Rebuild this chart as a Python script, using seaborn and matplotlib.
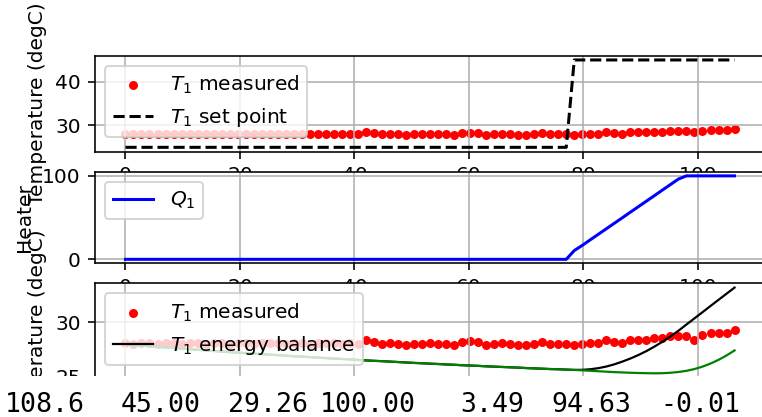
import matplotlib
matplotlib.use("Agg")
import matplotlib.pyplot as plt
import seaborn as sns
from matplotlib.patches import Rectangle

# ---------------- data ----------------
time_s = [0.0, 1.4, 2.8, 4.2, 5.6, 7.0, 8.4, 9.8, 11.2, 12.6,
          14.0, 15.4, 16.8, 18.2, 19.6, 21.0, 22.4, 23.8, 25.2, 26.6,
          28.0, 29.4, 30.8, 32.2, 33.6, 35.0, 36.4, 37.8, 39.2, 40.6,
          42.0, 43.4, 44.8, 46.2, 47.6, 49.0, 50.4, 51.8, 53.2, 54.6,
          56.0, 57.4, 58.8, 60.2, 61.6, 63.0, 64.4, 65.8, 67.2, 68.6,
          70.0, 71.4, 72.8, 74.2, 75.6, 77.0, 78.4, 79.8, 81.2, 82.6,
          84.0, 85.4, 86.8, 88.2, 89.6, 91.0, 92.4, 93.8, 95.2, 96.6,
          98.0, 99.4, 100.8, 102.2, 103.6, 105.0, 106.4]

T1_measured = [28.1, 28.0, 28.1, 28.1, 28.0, 28.1, 28.1, 28.0, 28.1, 28.1,
               28.0, 28.1, 28.1, 28.0, 28.1, 28.1, 28.0, 28.1, 28.1, 28.1,
               28.0, 28.1, 28.1, 28.0, 28.1, 28.1, 28.1, 28.0, 28.1, 28.0,
               28.4, 28.2, 28.0, 28.1, 28.0, 27.9, 28.0, 28.0, 28.1, 28.0,
               28.0, 27.9, 28.2, 28.3, 28.2, 27.9, 28.0, 28.1, 28.0, 27.9,
               27.9, 28.0, 28.2, 28.0, 28.0, 28.0, 27.9, 28.0, 28.1, 28.1,
               28.4, 28.2, 28.1, 28.4, 28.4, 28.4, 28.55, 28.55, 28.7, 28.7,
               28.7, 28.4, 28.85, 29.0, 29.0, 29.0, 29.3]

T1_setpoint = [25.0] * 56 + [45.0] * 21

Q1_heater = [0.0] * 56 + [10.5, 16.7, 23.4, 30.0, 36.6, 43.2, 49.8, 56.5,
                          63.1, 69.7, 76.3, 83.0, 89.6, 96.2] + [100.0] * 7

T1_cooling = [27.98, 27.92, 27.86, 27.81, 27.75, 27.69, 27.64, 27.58, 27.53, 27.48,
              27.43, 27.37, 27.32, 27.27, 27.22, 27.17, 27.13, 27.08, 27.03, 26.99,
              26.94, 26.89, 26.85, 26.81, 26.76, 26.72, 26.68, 26.64, 26.60, 26.55,
              26.51, 26.47, 26.44, 26.40, 26.36, 26.32, 26.28, 26.25, 26.21, 26.18,
              26.14, 26.11, 26.07, 26.04, 26.01, 25.97, 25.94, 25.91, 25.88, 25.85,
              25.81, 25.78, 25.75, 25.72, 25.70, 25.67]

T1_energy_heating = [25.64, 25.65, 25.70, 25.80, 25.95, 26.15, 26.40, 26.68, 27.00,
                     27.36, 27.77, 28.21, 28.70, 29.22, 29.79, 30.35, 30.91, 31.48,
                     32.04, 32.60, 33.16]

T1_green_heating = [25.64, 25.60, 25.56, 25.52, 25.48, 25.44, 25.41, 25.38, 25.36,
                    25.34, 25.33, 25.34, 25.38, 25.45, 25.56, 25.72, 25.94, 26.22,
                    26.56, 26.96, 27.42]

T1_energy = T1_cooling + T1_energy_heating
T1_green = T1_cooling + T1_green_heating

status_values = ["108.6", "45.00", "29.26", "100.00", "3.49", "94.63", "-0.01"]

# ---------------- figure ----------------
W, H = 762, 417
fig = plt.figure(figsize=(5.2552, 2.8759), dpi=145)

left = 95 / W
width = 670 / W
ax1 = fig.add_axes([left, 1 - 151.7 / H, width, 96.1 / H])
ax2 = fig.add_axes([left, 1 - 263.5 / H, width, 91.8 / H])
ax3 = fig.add_axes([left, 1 - 377.6 / H, width, 94.3 / H])

# top panel
sns.scatterplot(x=time_s, y=T1_measured, color="red", s=20, linewidth=0,
                label=r"$T_1$ measured", ax=ax1)
sns.lineplot(x=time_s, y=T1_setpoint, color="black", linestyle="--",
             linewidth=1.5, label=r"$T_1$ set point", ax=ax1)
ax1.set_ylabel("Temperature (degC)")
ax1.grid(True)
ax1.legend(loc="upper left")

# middle panel
sns.lineplot(x=time_s, y=Q1_heater, color="blue", linewidth=1.5,
             label=r"$Q_1$", ax=ax2)
ax2.set_ylabel("Heater")
ax2.grid(True)
ax2.legend(loc="upper left")

# bottom panel
sns.scatterplot(x=time_s, y=T1_measured, color="red", s=20, linewidth=0,
                label=r"$T_1$ measured", ax=ax3)
sns.lineplot(x=time_s, y=T1_energy, color="black", linewidth=1.1,
             label=r"$T_1$ energy balance", ax=ax3)
sns.lineplot(x=time_s, y=T1_green, color="green", linewidth=1.1,
             label="_nolegend_", ax=ax3)
ax3.set_ylabel("Temperature (degC)")
ax3.grid(True)
ax3.legend(loc="upper left")
# bottom panel's x tick labels sit under the printed output band
ax3.tick_params(axis="x", labelbottom=False)

for ax in (ax1, ax2, ax3):
    ax.set_xlabel("")

# white output band at the bottom
band_top = 376
fig.add_artist(Rectangle((0, 0), 1, 1 - band_top / H, transform=fig.transFigure,
                         facecolor="white", edgecolor="none", zorder=10))

text_x = [5, 121, 228, 320, 460, 551, 660]
for xp, s in zip(text_x, status_values):
    fig.text(xp / W, 5 / H, s, family="DejaVu Sans Mono", fontsize=13.2,
             ha="left", va="baseline", color="black", zorder=11)

fig.savefig("out.png", dpi=145)
